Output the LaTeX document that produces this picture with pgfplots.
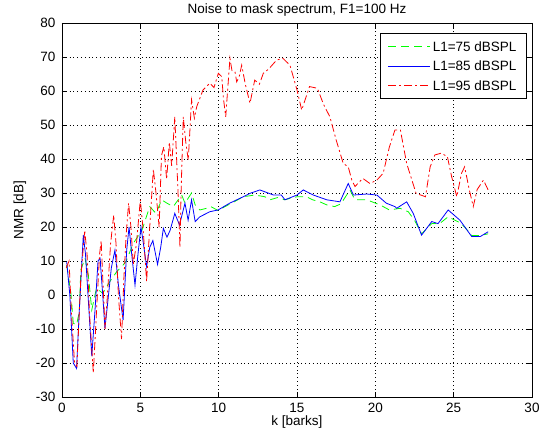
\documentclass[border=0pt]{standalone}
\usepackage{fontspec}
\setmainfont{Liberation Sans}
\usepackage{pgfplots}
\pgfplotsset{compat=1.18}

\begin{document}
\fontsize{13.5}{16}\selectfont
\begin{tikzpicture}
\begin{axis}[
  scale only axis,
  width=470pt, height=374pt,
  xmin=0, xmax=30, ymin=-30, ymax=80,
  xtick distance=5, ytick distance=10,
  /pgf/number format/assume math mode=true,
  grid=major,
  major grid style={black, line width=0.4pt, dash pattern=on 0.8pt off 3pt},
  axis line style={black, line width=0.6pt},
  tick style={black, line width=0.5pt},
  major tick length=5pt,
  tick align=inside,
  xticklabel style={anchor=center, yshift=-11pt},
  yticklabel style={xshift=-2pt},
  title={Noise to mask spectrum, F1=100 Hz},
  title style={at={(axis description cs:0.5,1)}, anchor=center, yshift=7pt},
  xlabel={k [barks]},
  xlabel style={at={(axis description cs:0.5,0)}, anchor=center, yshift=-25pt},
  ylabel={NMR [dB]},
  ylabel style={at={(axis description cs:0,0.5)}, anchor=center, yshift=42pt},
  legend style={at={(0.989,0.973)}, anchor=north east, draw=black, line width=0.6pt,
    fill=white, inner xsep=8pt, inner ysep=6pt, row sep=6pt,
    nodes={inner sep=2pt, text depth=0pt}},
  legend cell align=left,
  legend image code/.code={\draw[#1] (0pt,0pt) -- (42pt,0pt);},
]
% L1=75
\addplot[color={rgb,1:red,0;green,1;blue,0}, line width=0.8pt, dash pattern=on 8pt off 5pt] coordinates {
(0.3,8.8) (0.57,0.5) (0.72,-8.3) (0.93,-8.8) (1.1,-5) (1.2,7.4) (1.47,10.8) (1.68,5.9)
(1.9,-4.4) (2.2,2) (2.6,0.5) (3.06,4) (3.5,6.9) (3.9,8.8) (4.1,10) (4.55,15.2)
(5.1,19) (5.6,26) (6.0,24) (6.36,28) (6.7,27) (7.1,26) (7.64,29.4) (7.85,27)
(8.27,30) (8.5,26.5) (8.8,25) (9.23,25.5) (9.5,26) (9.98,24.8) (10.4,26) (10.83,27)
(11.57,28.9) (12.3,29.4) (12.95,28.9) (13.27,28) (13.8,28.7) (14.2,28) (15,28.9)
(15.6,28.9) (16.0,28) (16.46,27.4) (16.9,26.5) (17.4,26) (17.8,26.8) (18.38,30.9)
(18.7,28) (19.45,28) (20.3,26.5) (20.9,25) (21.57,25.5) (22.1,24.5) (22.5,22)
(22.95,18) (23.6,21) (24.1,21) (24.65,23) (25.3,21.5) (25.7,20) (26.15,17.5)
(26.7,17.5) (27.2,18)
};
\addlegendentry{L1=75 dBSPL}
% L1=85
\addplot[color={rgb,1:red,0;green,0;blue,1}, line width=0.8pt] coordinates {
(0.3,9.8) (0.5,0) (0.72,-20) (0.93,-21.6) (1.1,-5) (1.36,17.6) (1.5,12) (1.68,-1.5)
(1.9,-18) (2.1,-5) (2.3,10) (2.43,10.8) (2.6,0) (2.74,-9.8) (2.9,-3) (3.15,8)
(3.38,13.2) (3.6,3) (3.9,-7.4) (4.13,13.2) (4.28,20) (4.45,12) (4.66,2.9) (4.85,12)
(5.04,20) (5.2,15) (5.4,8.3) (5.6,14) (5.8,16) (6.1,9) (6.3,14) (6.47,19.6)
(6.7,17) (6.9,19) (7.2,24) (7.5,20.6) (7.85,27) (8.05,22) (8.27,28) (8.5,21.6)
(8.8,23) (9.44,24.5) (9.96,25) (10.7,27) (11.57,28.9) (12,29.9) (12.63,30.9)
(13.5,29.4) (14.0,29.4) (14.23,28) (15,29.4) (15.4,30.9) (16.04,29.4) (16.9,28)
(17.74,27.4) (18.27,32.8) (18.6,29.4) (19.45,29.7) (20.1,29.4) (20.7,27) (21.25,26)
(21.36,25.5) (22.0,27.4) (22.42,24) (22.95,17.6) (23.6,21.6) (24.0,21) (24.65,25)
(25.4,22) (26.15,17.2) (26.7,17.2) (27.2,18.6)
};
\addlegendentry{L1=85 dBSPL}
% L1=95
\addplot[color={rgb,1:red,1;green,0;blue,0}, line width=0.8pt, dash pattern=on 8pt off 3pt on 2pt off 3pt] coordinates {
(0.27,8) (0.45,10) (0.6,-5) (0.8,-20) (0.95,-21) (1.2,5) (1.45,19) (1.6,12)
(1.75,-5) (2.0,-23) (2.2,-5) (2.4,12) (2.5,16) (2.6,5) (2.75,-10) (2.9,0)
(3.1,15) (3.3,23.5) (3.45,15) (3.6,0) (3.8,-13) (3.95,5) (4.1,18) (4.25,27)
(4.4,20) (4.55,9) (4.75,15) (5.0,28) (5.2,18) (5.4,4) (5.6,20) (5.83,37)
(6.0,30) (6.2,20) (6.35,41) (6.5,43.6) (6.68,34) (6.85,45) (7.0,38) (7.2,52.4)
(7.4,31) (7.53,14) (7.6,30) (7.74,52.4) (7.9,45) (8.06,39.7) (8.27,57.4) (8.45,52)
(8.6,55.4) (9.0,60.3) (9.44,62.3) (9.7,61) (9.98,65.2) (10.2,64.2) (10.3,58)
(10.45,52.4) (10.6,62) (10.72,69.6) (10.85,66) (11.04,65.7) (11.15,62.7) (11.3,64)
(11.47,67.6) (11.7,62) (12.0,56.4) (12.3,63.2) (12.6,62) (12.85,65.2) (13.2,66.5)
(13.7,69.1) (14.1,69.6) (14.55,67.6) (15.0,60.3) (15.3,54.4) (15.8,61.3) (16.3,60.8)
(16.7,56) (17.1,52.4) (17.5,45.6) (17.95,38.7) (18.27,37.7) (18.5,33.8) (18.7,31.9)
(19.2,34.3) (19.65,32.8) (20.1,33.8) (20.5,35.8) (20.9,43.6) (21.25,48.5) (21.6,48.5)
(22.0,38.7) (22.6,29.9) (23.2,28.9) (23.5,37.7) (23.8,41.2) (24.2,41.7) (24.6,40.7)
(24.87,34.8) (25.2,28.9) (25.5,35.8) (25.7,37.7) (26.0,30.9) (26.25,26) (26.5,31)
(26.9,33.8) (27.2,30.9)
};
\addlegendentry{L1=95 dBSPL}
\end{axis}
\pgfresetboundingbox
\path (current axis.south west) ++(-62pt,-44pt) rectangle ++(547pt,441pt);
\end{tikzpicture}
\end{document}
